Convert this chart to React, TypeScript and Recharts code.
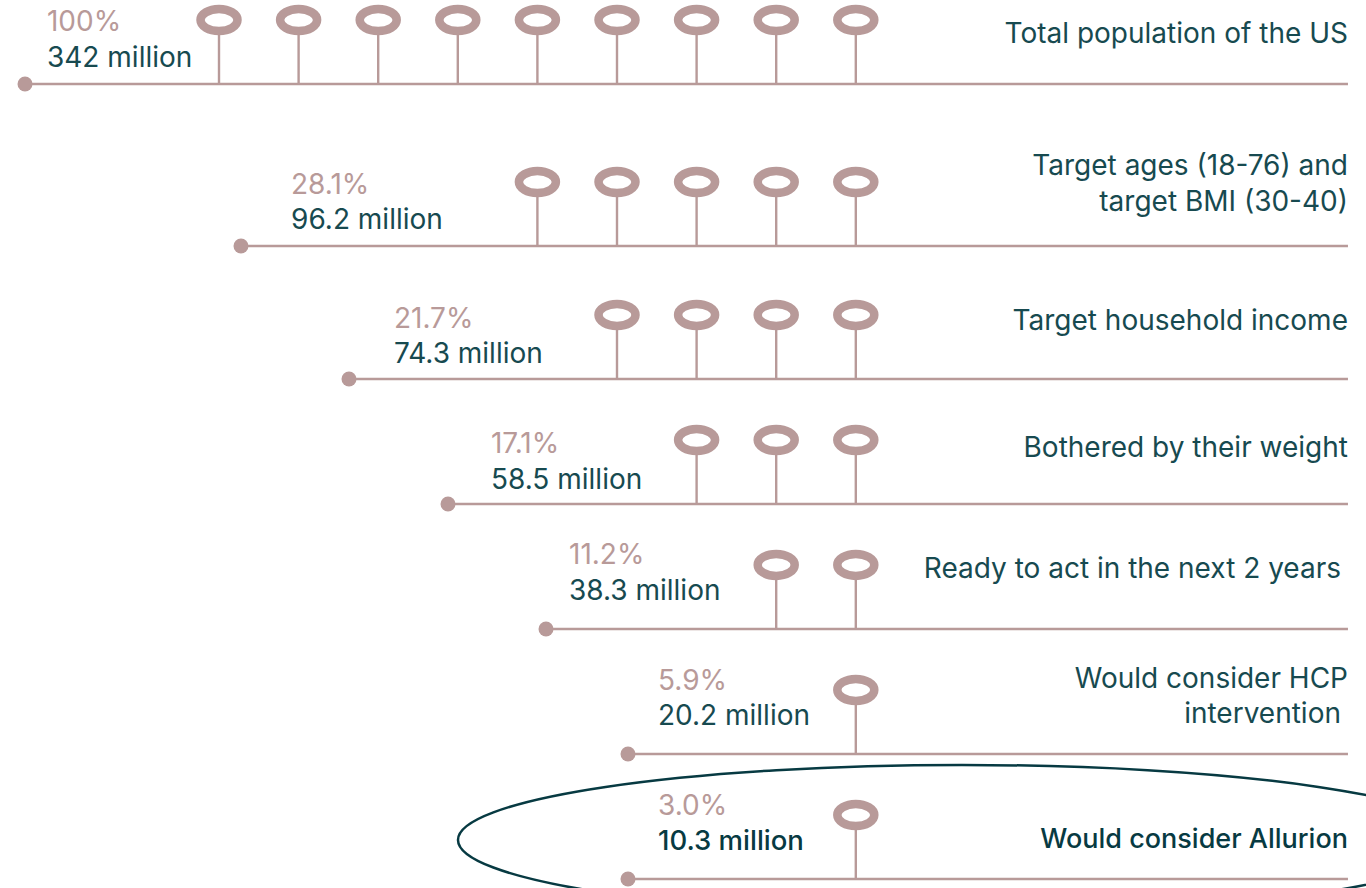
import React from 'react';
import { ComposedChart, XAxis, YAxis, Scatter, ReferenceLine, ReferenceDot } from 'recharts';

// ---- data ----
const STAGE_LABELS: string[][] = [
  ['Total population of the US'],
  ['Target ages (18-76) and', 'target BMI (30-40)'],
  ['Target household income'],
  ['Bothered by their weight'],
  ['Ready to act in the next 2 years'],
  ['Would consider HCP', 'intervention'],
  ['Would consider Allurion'],
];
const PERCENTS = ['100%', '28.1%', '21.7%', '17.1%', '11.2%', '5.9%', '3.0%'];
const MILLIONS = ['342 million', '96.2 million', '74.3 million', '58.5 million', '38.3 million', '20.2 million', '10.3 million'];
const PIN_COUNTS = [9, 5, 4, 3, 2, 1, 1];
const MAX_PINS = 9;

// ---- layout (axis units) ----
const ROW_LEVEL = [0, 1.293, 2.354, 3.352, 4.349, 5.347, 6.345];
const START_X = [-1.437, 1.276, 2.633, 3.877, 5.108, 6.138, 6.138];
const LABEL_X = [-1.161, 1.905, 3.198, 4.417, 5.397, 6.515, 6.515];
const END_X = 15.183;
const X_DOMAIN: [number, number] = [-1.7513, 15.4095];
const Y_DOMAIN: [number, number] = [-0.6704, 6.4166];
const HIGHLIGHT = { x: 10.334, y: 6.033 };

// ---- styles ----
const PINK = '#b89a99';
const TEAL = '#174a50';
const DARK = '#073a42';
const FONT = 'Inter, "Noto Sans", sans-serif';
const FS = 28;
const PCT_DY = [53, 52, 51, 51, 65, 64, 64];
const MIL_DY = [17, 17, 16, 15, 29, 29, 29];
const RIGHT_DY: number[][] = [[41], [71, 35], [49], [47], [51], [66, 31], [31]];
const RIGHT_DX: number[][] = [[0], [0, 0], [0], [0], [-7], [0, -7], [0]];

const pinData = PIN_COUNTS.flatMap((c, r) =>
  Array.from({ length: c }, (_, k) => ({ x: MAX_PINS - c + 1 + k, y: ROW_LEVEL[r] }))
);
const dotData = ROW_LEVEL.map((y, r) => ({ x: START_X[r], y }));
const labelData = ROW_LEVEL.map((y, r) => ({ x: LABEL_X[r], y, r }));
const rightData = ROW_LEVEL.map((y, r) => ({ x: END_X, y, r }));

const Pin = (p: any) => {
  const { cx, cy } = p;
  return (
    <g>
      <line x1={cx} x2={cx} y1={cy} y2={cy - 50} stroke={PINK} strokeWidth={2.4} />
      <ellipse cx={cx} cy={cy - 64} rx={18.5} ry={11} fill="#fff" stroke={PINK} strokeWidth={8.5} />
    </g>
  );
};

const Dot = (p: any) => <circle cx={p.cx} cy={p.cy} r={7.5} fill={PINK} />;

const LeftLabel = (p: any) => {
  const { cx, cy, payload } = p;
  const r = payload.r;
  const last = r === ROW_LEVEL.length - 1;
  return (
    <g>
      <text x={cx} y={cy - PCT_DY[r]} fill={PINK} fontFamily={FONT} fontSize={FS}>
        {PERCENTS[r]}
      </text>
      <text
        x={cx}
        y={cy - MIL_DY[r]}
        fill={last ? DARK : TEAL}
        fontWeight={last ? 500 : 400}
        fontFamily={FONT}
        fontSize={last ? 27.5 : FS}
      >
        {MILLIONS[r]}
      </text>
    </g>
  );
};

const RightLabel = (p: any) => {
  const { cx, cy, payload } = p;
  const r = payload.r;
  const last = r === ROW_LEVEL.length - 1;
  return (
    <g>
      {STAGE_LABELS[r].map((t, i) => (
        <text
          key={i}
          x={cx + RIGHT_DX[r][i]}
          y={cy - RIGHT_DY[r][i]}
          textAnchor="end"
          fill={last ? DARK : TEAL}
          fontWeight={last ? 500 : 400}
          fontFamily={FONT}
          fontSize={last ? 27 : FS}
        >
          {t}
        </text>
      ))}
    </g>
  );
};

const Highlight = (p: any) => (
  <ellipse cx={p.cx} cy={p.cy} rx={504} ry={75} fill="none" stroke={DARK} strokeWidth={2.5} />
);

export default function App() {
  return (
    <div style={{ position: 'absolute', left: 0, top: 0, width: 1366, height: 888, overflow: 'hidden', background: '#fff' }}>
      <ComposedChart width={1366} height={888} margin={{ top: 0, right: 0, bottom: 0, left: 0 }}>
        <XAxis type="number" dataKey="x" domain={X_DOMAIN} hide allowDataOverflow />
        <YAxis type="number" dataKey="y" domain={Y_DOMAIN} hide reversed allowDataOverflow />
        <ReferenceDot x={HIGHLIGHT.x} y={HIGHLIGHT.y} ifOverflow="visible" shape={Highlight} />
        {ROW_LEVEL.map((y, r) => (
          <ReferenceLine
            key={r}
            segment={[{ x: START_X[r], y }, { x: END_X, y }]}
            stroke={PINK}
            strokeWidth={2.6}
            ifOverflow="visible"
          />
        ))}
        <Scatter data={pinData} dataKey="y" shape={Pin} isAnimationActive={false} />
        <Scatter data={dotData} dataKey="y" shape={Dot} isAnimationActive={false} />
        <Scatter data={labelData} dataKey="y" shape={LeftLabel} isAnimationActive={false} />
        <Scatter data={rightData} dataKey="y" shape={RightLabel} isAnimationActive={false} />
      </ComposedChart>
    </div>
  );
}
